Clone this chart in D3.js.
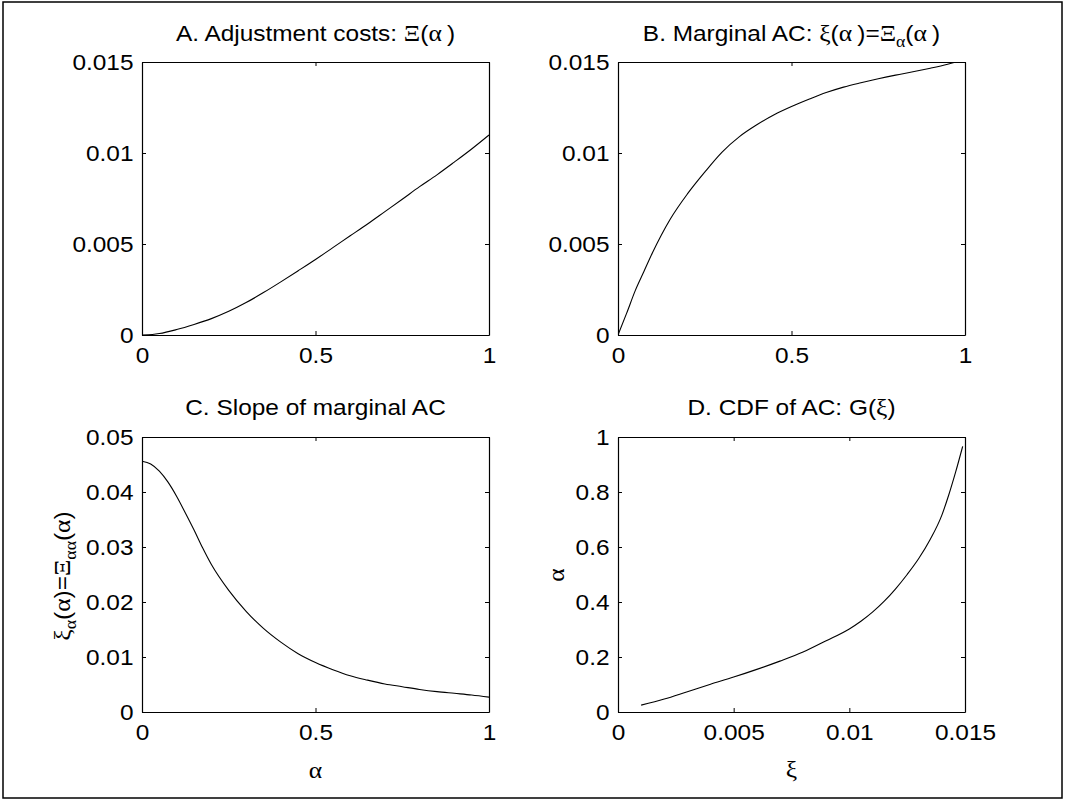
<!DOCTYPE html>
<html><head><meta charset="utf-8">
<script src="https://cdn.jsdelivr.net/npm/d3@7"></script>
<style>body{margin:0;background:#fff}svg{display:block}</style>
</head><body><svg id="c" width="1066" height="801"></svg>
<script>
// ---------- data ----------
const alphaA = [0, 0.03, 0.05, 0.1, 0.15, 0.2, 0.25, 0.3, 0.35, 0.4, 0.45, 0.5, 0.55, 0.6, 0.65, 0.7, 0.75, 0.8, 0.85, 0.9, 0.95, 1.0];
const costA  = [0, 0.00003, 0.00008, 0.0003, 0.00058, 0.0009, 0.0013, 0.00178, 0.00233, 0.00292, 0.00353, 0.00415, 0.0048, 0.00545, 0.0061, 0.00678, 0.00746, 0.00815, 0.0088, 0.0095, 0.01022, 0.01099];

const alphaB = [0, 0.025, 0.05, 0.075, 0.1, 0.125, 0.15, 0.2, 0.25, 0.3, 0.35, 0.4, 0.45, 0.5, 0.55, 0.6, 0.65, 0.7, 0.75, 0.8, 0.85, 0.9, 0.95, 0.97];
const marginalB = [0, 0.0012, 0.00245, 0.0035, 0.00455, 0.0055, 0.00635, 0.00775, 0.00895, 0.01005, 0.0109, 0.01155, 0.0121, 0.01255, 0.01295, 0.01332, 0.01362, 0.01386, 0.01408, 0.01428, 0.01446, 0.01466, 0.01488, 0.01498];

const alphaC = [0, 0.025, 0.05, 0.075, 0.1, 0.125, 0.15, 0.175, 0.2, 0.25, 0.3, 0.35, 0.4, 0.45, 0.5, 0.55, 0.6, 0.65, 0.7, 0.75, 0.8, 0.85, 0.9, 0.95, 1.0];
const slopeC = [0.0456, 0.0451, 0.0438, 0.0418, 0.0392, 0.0362, 0.0331, 0.0298, 0.0268, 0.0221, 0.0183, 0.0152, 0.0127, 0.0106, 0.0090, 0.0077, 0.0066, 0.0058, 0.0051, 0.0046, 0.0041, 0.0037, 0.0034, 0.0031, 0.0027];

const xiD  = [0.001, 0.002, 0.003, 0.004, 0.005, 0.006, 0.007, 0.008, 0.009, 0.01, 0.0105, 0.011, 0.0115, 0.012, 0.0125, 0.013, 0.0135, 0.014, 0.0143, 0.0146, 0.0149];
const cdfD = [0.025, 0.047, 0.074, 0.101, 0.127, 0.155, 0.185, 0.218, 0.259, 0.302, 0.330, 0.363, 0.402, 0.448, 0.500, 0.558, 0.628, 0.716, 0.790, 0.874, 0.966];

const ticksUnit  = [0, 0.5, 1];
const ticksCost  = [0, 0.005, 0.01, 0.015];
const ticksSlope = [0, 0.01, 0.02, 0.03, 0.04, 0.05];
const ticksCdf   = [0, 0.2, 0.4, 0.6, 0.8, 1];

// ---------- layout ----------
const SANS = "'Liberation Sans', Arial, Helvetica, sans-serif";
const SERIF = "'Liberation Serif', 'DejaVu Serif', serif";
const FS = 22, SX = 1.11;
const colL = [142, 489], colR = [618, 965];
const rowT = [62, 335], rowB = [437, 712];

const svg = d3.select("#c");
svg.append("rect").attr("x", 3).attr("y", 2).attr("width", 1059).attr("height", 796)
  .attr("fill", "none").attr("stroke", "#000").attr("stroke-width", 1.5);

const fmt = d => d === 0 ? "0" : String(+d.toFixed(4));

function richText(parent, x, y, parts, opts = {}) {
  const rot = opts.rotate ? ` rotate(${opts.rotate})` : "";
  const t = parent.append("text")
    .attr("transform", `translate(${x},${y})${rot} scale(${SX},1)`)
    .attr("text-anchor", opts.anchor || "middle")
    .attr("font-size", FS).attr("font-family", SANS).attr("fill", "#000");
  let shift = 0;
  parts.forEach(p => {
    const ts = t.append("tspan").text(p.t);
    if (p.g) ts.attr("font-family", SERIF).attr("font-size", p.sub ? 16 : 23);
    const target = p.sub ? 6 : 0;
    if (target !== shift) { ts.attr("dy", target - shift); shift = target; }
    if (p.sub && !p.g) ts.attr("font-size", 16);
  });
  return t;
}

function panel(xr, yr, xDomain, yDomain, xTicks, yTicks, xs, ys, clipId) {
  const x = d3.scaleLinear().domain(xDomain).range(xr);
  const y = d3.scaleLinear().domain(yDomain).range([yr[1], yr[0]]);
  const g = svg.append("g");
  g.append("clipPath").attr("id", clipId).append("rect")
    .attr("x", xr[0]).attr("y", yr[0]).attr("width", xr[1] - xr[0]).attr("height", yr[1] - yr[0]);

  const styleAxis = sel => {
    sel.select(".domain").attr("stroke", "#000").attr("stroke-width", 1.2);
    sel.selectAll(".tick line").attr("stroke", "#000").attr("stroke-width", 1);
  };
  const bottom = g.append("g").attr("transform", `translate(0,${yr[1]})`)
    .call(d3.axisBottom(x).tickValues(xTicks).tickSizeInner(-4).tickSizeOuter(0).tickFormat(fmt));
  styleAxis(bottom);
  bottom.selectAll(".tick text").attr("y", null).attr("dy", null)
    .attr("transform", `translate(0,28) scale(${SX},1)`)
    .attr("font-size", FS).attr("font-family", SANS).attr("fill", "#000");
  const left = g.append("g").attr("transform", `translate(${xr[0]},0)`)
    .call(d3.axisLeft(y).tickValues(yTicks).tickSizeInner(-4).tickSizeOuter(0).tickFormat(fmt));
  styleAxis(left);
  left.selectAll(".tick text").attr("x", null).attr("dy", "0.36em")
    .attr("transform", `translate(-8.5,0) scale(${SX},1)`)
    .attr("font-size", FS).attr("font-family", SANS).attr("fill", "#000");
  const top = g.append("g").attr("transform", `translate(0,${yr[0]})`)
    .call(d3.axisTop(x).tickValues(xTicks).tickSizeInner(-4).tickSizeOuter(0).tickFormat(""));
  styleAxis(top);
  const right = g.append("g").attr("transform", `translate(${xr[1]},0)`)
    .call(d3.axisRight(y).tickValues(yTicks).tickSizeInner(-4).tickSizeOuter(0).tickFormat(""));
  styleAxis(right);

  const data = xs.map((v, i) => [v, ys[i]]);
  g.append("path").datum(data).attr("clip-path", `url(#${clipId})`)
    .attr("fill", "none").attr("stroke", "#000").attr("stroke-width", 1.1)
    .attr("d", d3.line().curve(d3.curveMonotoneX).x(d => x(d[0])).y(d => y(d[1])));
  return g;
}

const TS = "\u2009";
// A
const gA = panel(colL, rowT, [0, 1], [0, 0.015], ticksUnit, ticksCost, alphaA, costA, "cA");
richText(gA, (colL[0] + colL[1]) / 2, 41, [{t: "A. Adjustment costs: "}, {t: "Ξ", g: 1}, {t: "("}, {t: "α" + TS, g: 1}, {t: ")"}]);

// B
const gB = panel(colR, rowT, [0, 1], [0, 0.015], ticksUnit, ticksCost, alphaB, marginalB, "cB");
richText(gB, (colR[0] + colR[1]) / 2, 41, [{t: "B. Marginal AC: "}, {t: "ξ", g: 1}, {t: "("}, {t: "α" + TS, g: 1}, {t: ")="},
  {t: "Ξ", g: 1}, {t: "α", g: 1, sub: 1}, {t: "("}, {t: "α" + TS, g: 1}, {t: ")"}]);

// C
const gC = panel(colL, rowB, [0, 1], [0, 0.05], ticksUnit, ticksSlope, alphaC, slopeC, "cC");
richText(gC, (colL[0] + colL[1]) / 2, 415, [{t: "C. Slope of marginal AC"}]);
richText(gC, (colL[0] + colL[1]) / 2, 778, [{t: "α", g: 1}]);
richText(gC, 70, 576, [{t: "ξ", g: 1}, {t: "α", g: 1, sub: 1}, {t: "("}, {t: "α", g: 1}, {t: ")="},
  {t: "Ξ", g: 1}, {t: "αα", g: 1, sub: 1}, {t: "("}, {t: "α", g: 1}, {t: ")"}], {rotate: -90});

// D
const gD = panel(colR, rowB, [0, 0.015], [0, 1], ticksCost, ticksCdf, xiD, cdfD, "cD");
richText(gD, (colR[0] + colR[1]) / 2, 415, [{t: "D. CDF of AC: G("}, {t: "ξ", g: 1}, {t: ")"}]);
richText(gD, (colR[0] + colR[1]) / 2, 777, [{t: "ξ", g: 1}]);
richText(gD, 564, 575, [{t: "α", g: 1}], {rotate: -90});
</script>
</body></html>
